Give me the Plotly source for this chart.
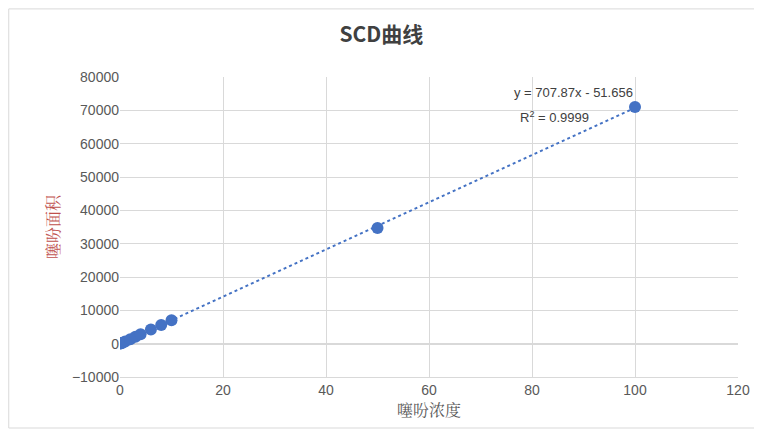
import plotly.graph_objects as go

conc = [0.1, 0.2, 0.5, 1, 2, 3, 4, 6, 8, 10, 50, 100]
area = [30, 100, 300, 650, 1350, 2050, 2800, 4250, 5600, 7000, 34700, 71000]
slope, intercept = 707.87, -51.656
trend_x = [0, 100]
trend_y = [slope * x + intercept for x in trend_x]

fig = go.Figure()
fig.add_trace(go.Scatter(x=trend_x, y=trend_y, mode="lines",
                         line=dict(color="#4472C4", width=2, dash="dot"), hoverinfo="skip"))
fig.add_trace(go.Scatter(x=conc, y=area, mode="markers",
                         marker=dict(color="#4472C4", size=12)))
fig.add_annotation(x=100, y=75500, xref="x", yref="y", text="y = 707.87x - 51.656",
                   showarrow=False, xanchor="right", font=dict(size=13, color="#404040"))
fig.add_annotation(x=91.5, y=68000, xref="x", yref="y", text="R<sup>2</sup> = 0.9999",
                   showarrow=False, xanchor="right", font=dict(size=13, color="#404040"))
fig.update_layout(
    width=762, height=434, showlegend=False,
    paper_bgcolor="white", plot_bgcolor="white",
    font=dict(family="Liberation Sans, Noto Sans CJK SC", color="#595959"),
    title=dict(text="<b>SCD曲线</b>", x=0.49, y=0.955, xanchor="center", xref="container",
               font=dict(size=21, color="#404040", family="Noto Sans CJK SC")),
    margin=dict(l=112, r=32, t=69, b=65, autoexpand=False),
    xaxis=dict(range=[0, 120], dtick=20, showgrid=True, gridcolor="#D9D9D9",
               zeroline=False, showline=True, linecolor="#D9D9D9", automargin=False,
               tickfont=dict(size=14), ticks="",
               title=dict(text="噻吩浓度", font=dict(size=16, family="Noto Serif CJK SC, Noto Sans CJK SC", color="#595959"), standoff=6)),
    yaxis=dict(range=[-10000, 80000], dtick=10000, showgrid=True, gridcolor="#D9D9D9",
               tickformat="d", automargin=False,
               zeroline=True, zerolinecolor="#D9D9D9", tickfont=dict(size=14), ticks="",
               title=dict(text="噻吩面积", font=dict(size=16, family="Noto Serif CJK SC, Noto Sans CJK SC", color="#C0504D"), standoff=8)),
)
fig.add_shape(type="rect", xref="paper", yref="paper", x0=-0.18, y0=-0.17, x1=1.031, y1=1.227,
              line=dict(color="#D9D9D9", width=1))
fig.write_html("out.html")
